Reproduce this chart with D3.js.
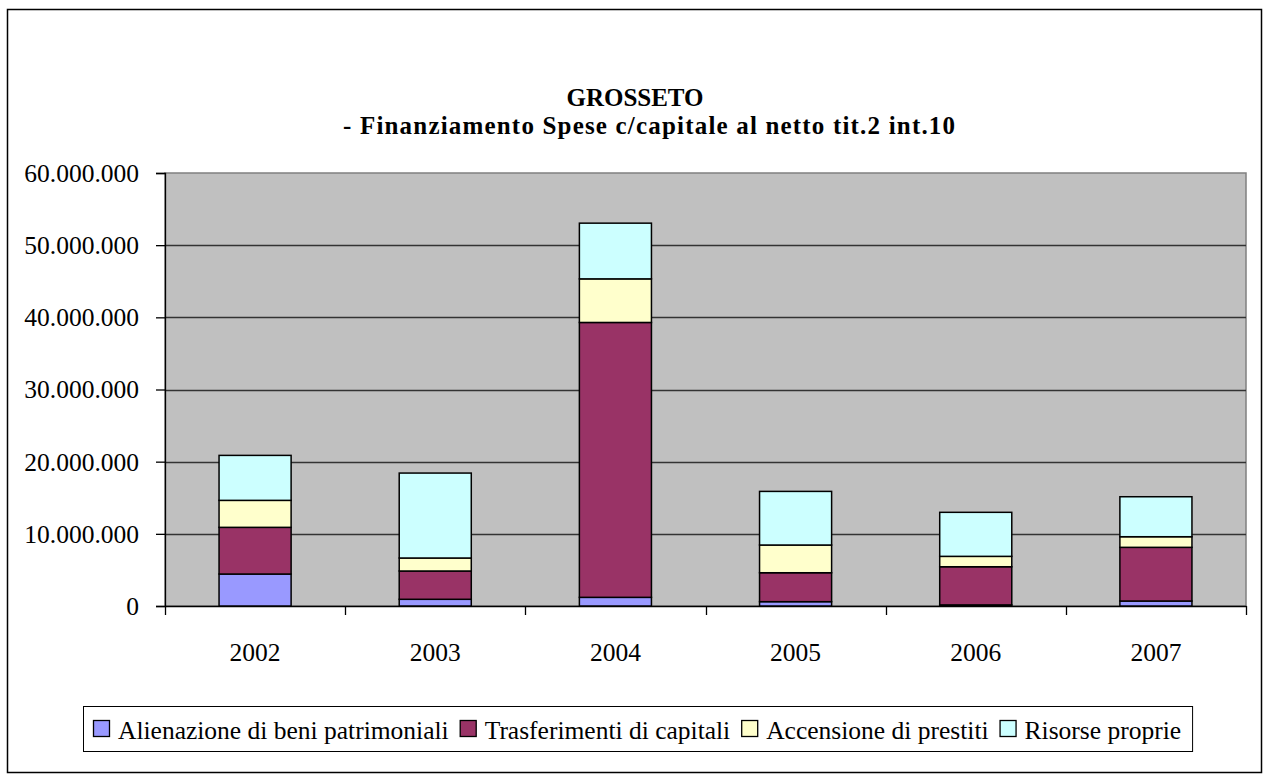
<!DOCTYPE html>
<html><head><meta charset="utf-8">
<script src="https://cdn.jsdelivr.net/npm/d3@7"></script>
<style>body{margin:0;background:#fff}svg{display:block}</style>
</head><body>
<script>
const categories = ["2002","2003","2004","2005","2006","2007"];
const seriesNames = ["Alienazione di beni patrimoniali","Trasferimenti di capitali","Accensione di prestiti","Risorse proprie"];
const alienazione = [4430000, 930000, 1200000, 600000, 150000, 690000];
const trasferimenti = [6470000, 3920000, 38090000, 4010000, 5290000, 7440000];
const accensione = [3740000, 1800000, 6040000, 3840000, 1440000, 1470000];
const risorse = [6230000, 11770000, 7720000, 7430000, 6100000, 5540000];
const colors = ["#9999ff","#993366","#ffffcc","#ccffff"];
const yTicks = [0,10000000,20000000,30000000,40000000,50000000,60000000];

(function(){
const W=1269,H=780;
const svg=d3.select("body").append("svg").attr("width",W).attr("height",H);
svg.append("rect").attr("x",7.5).attr("y",9.5).attr("width",1254).attr("height",763).attr("fill","#fff").attr("stroke","#000").attr("stroke-width",1.5);

const pL=165,pR=1246,pT=173,pB=606;
const x=d3.scaleBand().domain(categories).range([pL,pR]).paddingInner(0.6).paddingOuter(0.3);
const xb=d3.scaleBand().domain(categories).range([pL,pR]);
const y=d3.scaleLinear().domain([0,60000000]).range([pB,pT]);

svg.append("rect").attr("x",pL).attr("y",pT).attr("width",pR-pL).attr("height",pB-pT).attr("fill","#c0c0c0").attr("stroke","#808080").attr("stroke-width",1.5);

svg.append("g").selectAll("line").data(yTicks.slice(1,-1)).join("line")
 .attr("x1",pL).attr("x2",pR).attr("y1",d=>Math.round(y(d))+0.5).attr("y2",d=>Math.round(y(d))+0.5)
 .attr("stroke","#333").attr("stroke-width",1.3);

const fmt=d=>d3.format(",")(d).replace(/,/g,".");
const tf="'Liberation Serif','Times New Roman',serif";
const FS=25.5;
const yAxis=svg.append("g").attr("transform",`translate(${pL},0)`)
 .call(d3.axisLeft(y).tickValues(yTicks).tickFormat(fmt).tickSize(9).tickPadding(17));
yAxis.select(".domain").attr("stroke","#000").attr("stroke-width",1.3);
yAxis.selectAll(".tick line").attr("stroke","#000").attr("stroke-width",1.3);
yAxis.selectAll("text").attr("font-family",tf).attr("font-size",FS).attr("fill","#000").attr("dy","0.33em");

const xAxis=svg.append("g").attr("transform",`translate(0,${pB})`)
 .call(d3.axisBottom(xb).tickSize(0));
xAxis.select(".domain").attr("stroke","#000").attr("stroke-width",1.3);
xAxis.selectAll("text").attr("font-family",tf).attr("font-size",FS).attr("fill","#000").attr("y",55).attr("dy",0);
const edges=categories.map(c=>xb(c)).concat([xb.range()[1]]);
svg.append("g").selectAll("line").data(edges).join("line")
 .attr("x1",d=>Math.round(d)+0.5).attr("x2",d=>Math.round(d)+0.5)
 .attr("y1",pB).attr("y2",pB+9).attr("stroke","#000").attr("stroke-width",1.3);

const rows=categories.map((c,i)=>({cat:c,s0:alienazione[i],s1:trasferimenti[i],s2:accensione[i],s3:risorse[i]}));
const stack=d3.stack().keys(["s0","s1","s2","s3"])(rows);
svg.append("g").selectAll("g").data(stack).join("g").attr("fill",(d,i)=>colors[i])
 .selectAll("rect").data(d=>d).join("rect")
 .attr("x",d=>x(d.data.cat)).attr("width",x.bandwidth())
 .attr("y",d=>y(d[1])).attr("height",d=>y(d[0])-y(d[1]))
 .attr("stroke","#000").attr("stroke-width",1.5);

svg.append("text").attr("x",635).attr("y",106).attr("text-anchor","middle").attr("font-family",tf).attr("font-weight","bold").attr("font-size",25).text("GROSSETO");
svg.append("text").attr("x",649).attr("y",134).attr("text-anchor","middle").attr("font-family",tf).attr("font-weight","bold").attr("font-size",25)
 .attr("textLength",612).attr("lengthAdjust","spacing").text("- Finanziamento Spese c/capitale al netto tit.2 int.10");

const lg=svg.append("g");
const lx=83, ly=706, lh=45;
let cx=lx+10;
seriesNames.forEach((n,i)=>{
  const g=lg.append("g");
  g.append("rect").attr("x",cx+0.5).attr("y",ly+14.5).attr("width",16).attr("height",16).attr("fill",colors[i]).attr("stroke","#000").attr("stroke-width",1.3);
  const t=g.append("text").attr("x",cx+25).attr("y",ly+33).attr("font-family",tf).attr("font-size",FS).text(n);
  cx+=25+t.node().getComputedTextLength()+11;
});
lg.insert("rect",":first-child").attr("x",lx+0.5).attr("y",ly+0.5).attr("width",cx-lx).attr("height",lh).attr("fill","#fff").attr("stroke","#000").attr("stroke-width",1);
})();
</script>
</body></html>
